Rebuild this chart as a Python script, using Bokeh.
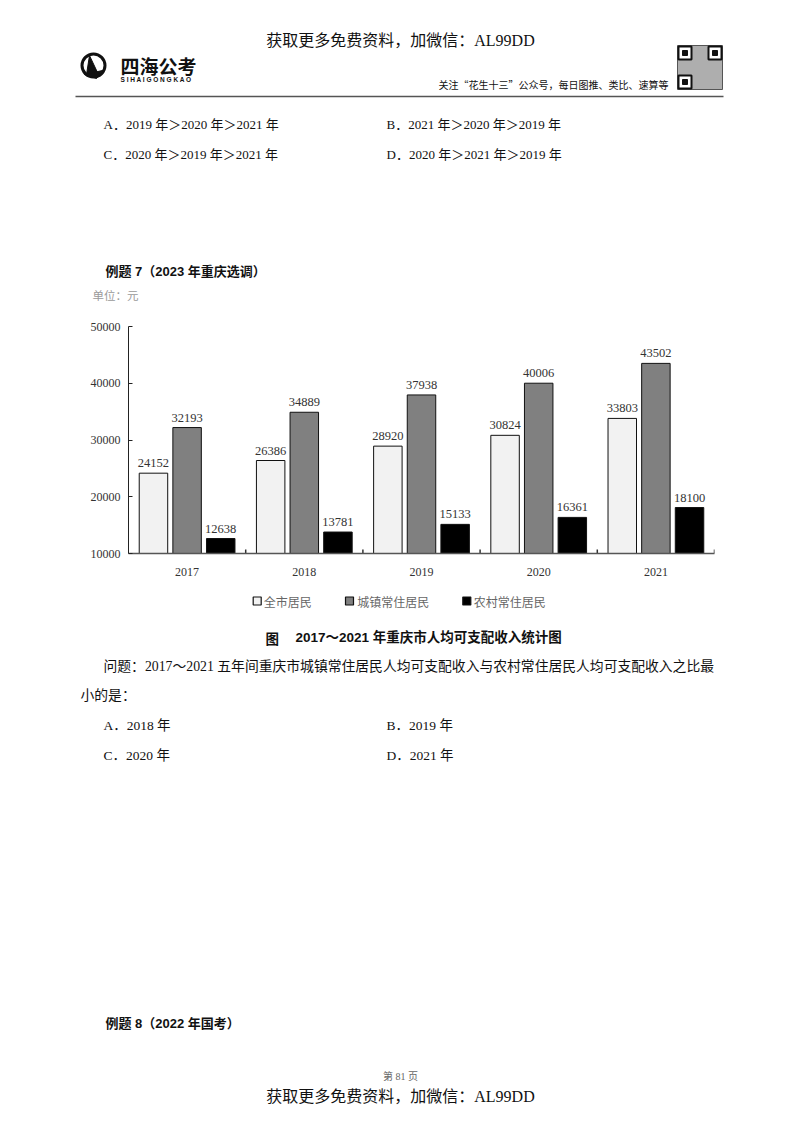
from bokeh.plotting import figure
from bokeh.models import Range1d, FactorRange, FixedTicker, ColumnDataSource
from bokeh.transform import dodge
from bokeh.layouts import column
from bokeh.core.properties import value
from bokeh.embed import file_html
from bokeh.resources import INLINE

# ---------------- data ----------------
years = ["2017", "2018", "2019", "2020", "2021"]
all_residents = [24152, 26386, 28920, 30824, 33803]
urban_residents = [32193, 34889, 37938, 40006, 43502]
rural_residents = [12638, 13781, 15133, 16361, 18100]
series_names = ["全市居民", "城镇常住居民", "农村常住居民"]
y_ticks = [10000, 20000, 30000, 40000, 50000]

# ---------------- styles ----------------
W = 800
CJK = "Noto Sans CJK SC"
SERIF_MIX = "Liberation Serif, Noto Sans CJK SC"
SANS_MIX = "Liberation Sans, Noto Sans CJK SC"
bar_colors = ["#f2f2f2", "#808080", "#000000"]
offsets = [-0.287, 0.0, 0.287]
BAR_W = 0.243


def page_fig(top, bottom):
    p = figure(width=W, height=bottom - top, x_range=Range1d(0, W),
               y_range=Range1d(bottom, top), output_backend="svg",
               toolbar_location=None, x_axis_type=None, y_axis_type=None,
               min_border=0, outline_line_color=None)
    p.frame_align = False
    return p


def txt(p, x, y, s, size, font=SERIF_MIX, color="#111111", align="left", style="normal"):
    p.text(x=[x], y=[y], text=[s], text_font=value(font), text_font_size=f"{size}px",
           text_color=color, text_align=align, text_baseline="middle",
           text_font_style=style)


# ---------------- top part of the page ----------------
top = page_fig(0, 312)
txt(top, 400, 40, "获取更多免费资料，加微信：AL99DD", 16, align="center")
# logo
top.circle(x=[93], y=[65], radius=11.5, fill_color=None, line_color="#111111", line_width=3)
top.patch(x=[89, 97, 99, 86], y=[55, 72, 74, 74], fill_color="#111111", line_color="#111111")
top.patch(x=[84, 102, 96], y=[74, 70, 78], fill_color="#111111", line_color="#111111")
txt(top, 120, 65, "四海公考", 19, font=CJK, style="bold")
txt(top, 120, 79, "S I H A I G O N G K A O", 6.5, font="Liberation Sans", style="bold")
txt(top, 668, 84, "关注“花生十三”公众号，每日图推、类比、速算等", 10, font=CJK, align="right")
# QR code placeholder
top.quad(left=[677], right=[722], top=[45], bottom=[89], fill_color="#9a9a9a",
         line_color="#555555", fill_alpha=0.8)
top.quad(left=[678, 708, 678], right=[691, 721, 691], top=[46, 46, 75], bottom=[59, 59, 88],
         fill_color="#ffffff", line_color="#111111", line_width=2)
top.quad(left=[682, 712, 682], right=[687, 717, 687], top=[50, 50, 79], bottom=[55, 55, 84],
         fill_color="#111111", line_color="#111111")
top.segment(x0=[75], y0=[96], x1=[723], y1=[96], line_color="#555555", line_width=1.5)

txt(top, 103, 124, "A．2019 年＞2020 年＞2021 年", 13)
txt(top, 386, 124, "B．2021 年＞2020 年＞2019 年", 13)
txt(top, 103, 154, "C．2020 年＞2019 年＞2021 年", 13)
txt(top, 386, 154, "D．2020 年＞2021 年＞2019 年", 13)
txt(top, 105, 271, "例题 7（2023 年重庆选调）", 13, font=SANS_MIX, style="bold")
txt(top, 92, 294, "单位：元", 11.5, font=CJK, color="#9a9a9a")

# ---------------- chart ----------------
src = ColumnDataSource(dict(year=years, a=all_residents, u=urban_residents, r=rural_residents))
chart = figure(width=W, height=273, x_range=FactorRange(*years, range_padding=0),
               y_range=Range1d(10000, 50000), output_backend="svg", toolbar_location=None,
               min_border_left=128, min_border_right=86, min_border_top=14,
               min_border_bottom=32, outline_line_color=None)
chart.frame_align = False
chart.grid.visible = False

for col, off, color in zip(["a", "u", "r"], offsets, bar_colors):
    xs = dodge("year", off, range=chart.x_range)
    chart.vbar(x=xs, top=col, bottom=10000, width=BAR_W, source=src,
               fill_color=color, line_color="#111111", line_width=1)
    chart.text(x=xs, y=col, text=col, source=src, text_align="center",
               text_baseline="alphabetic", y_offset=-10,
               text_font=value("Liberation Serif"), text_font_size="12.5px",
               text_color="#333333")

# boundary ticks on the category axis
TICK = 700
chart.segment(x0=dodge("year", 0.5, range=chart.x_range), y0=10000,
              x1=dodge("year", 0.5, range=chart.x_range), y1=10000 + TICK,
              source=src, line_color="#333333", line_width=1.5)

xa = chart.xaxis[0]
xa.major_tick_line_color = None
xa.minor_tick_line_color = None
xa.axis_line_color = "#555555"
xa.axis_line_width = 1.5
xa.major_label_standoff = 8
xa.major_label_text_font = "Liberation Serif"
xa.major_label_text_font_size = "12px"
xa.major_label_text_color = "#333333"

ya = chart.yaxis[0]
ya.ticker = FixedTicker(ticks=y_ticks)
ya.major_tick_in = 4
ya.major_tick_out = 0
ya.minor_tick_line_color = None
ya.axis_line_color = "#222222"
ya.major_tick_line_color = "#222222"
ya.major_label_standoff = 8
ya.major_label_text_font = "Liberation Serif"
ya.major_label_text_font_size = "12px"
ya.major_label_text_color = "#333333"

# ---------------- bottom part of the page ----------------
bot = page_fig(585, 1132)
# legend
leg_sq_x = [256.7, 349, 466.3]
leg_tx_x = [263.3, 356.7, 473.3]
bot.rect(x=leg_sq_x, y=[600.5] * 3, width=8, height=8, fill_color=bar_colors,
         line_color="#111111", line_width=1.2)
for xx, name in zip(leg_tx_x, series_names):
    txt(bot, xx, 601, name, 12, font=CJK, color="#666666")

txt(bot, 265, 637, "图", 13.5, font=CJK, style="bold")
txt(bot, 295, 637, "2017～2021 年重庆市人均可支配收入统计图", 13.5, font=SANS_MIX, style="bold")
txt(bot, 103, 666, "问题：2017～2021 五年间重庆市城镇常住居民人均可支配收入与农村常住居民人均可支配收入之比最", 13.8)
txt(bot, 80, 695, "小的是：", 13.8)
txt(bot, 103, 725, "A．2018 年", 13.5)
txt(bot, 386, 725, "B．2019 年", 13.5)
txt(bot, 103, 755, "C．2020 年", 13.5)
txt(bot, 386, 755, "D．2021 年", 13.5)
txt(bot, 105, 1023, "例题 8（2022 年国考）", 13, font=SANS_MIX, style="bold")
txt(bot, 400, 1076, "第 81 页", 10, color="#666666", align="center")
txt(bot, 400, 1096, "获取更多免费资料，加微信：AL99DD", 16, align="center")

page = column(top, chart, bot, spacing=0)
open("out.html", "w").write(file_html(page, INLINE))
